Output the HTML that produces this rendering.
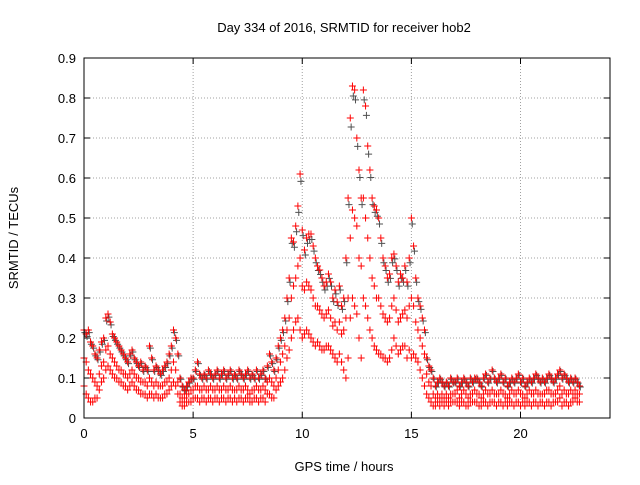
<!DOCTYPE html>
<html><head><meta charset="utf-8"><style>
body{margin:0;background:#fff}
svg{font-family:"Liberation Sans",sans-serif;font-size:13px}
</style></head><body>
<svg id="chart" width="640" height="480">
<text x="344" y="32" text-anchor="middle">Day 334 of 2016, SRMTID for receiver hob2</text>
<text x="344" y="471" text-anchor="middle">GPS time / hours</text>
<text transform="translate(18,238) rotate(-90)" text-anchor="middle">SRMTID / TECUs</text>
<g id="grid"></g>
<g id="axes"></g>
<g id="marks"></g>
<rect x="84" y="58" width="526" height="360" fill="none" stroke="#000"/>
</svg>
<script>
const xTicks=[0,5,10,15,20];
const yTicks=[0,0.1,0.2,0.3,0.4,0.5,0.6,0.7,0.8,0.9];
const yTickLabels=["0","0.1","0.2","0.3","0.4","0.5","0.6","0.7","0.8","0.9"];
const tStart=0, tStep=0.1;
const hi=[.22,.21,.22,.19,.18,.16,.15,.17,.19,.20,.25,.26,.24,.21,.20,.19,.18,.17,.16,.15,.14,.16,.17,.15,.14,.13,.14,.12,.13,.12,.18,.15,.12,.13,.12,.11,.12,.13,.14,.16,.18,.22,.20,.16,.10,.08,.07,.08,.09,.10,.10,.12,.14,.11,.10,.11,.10,.12,.11,.10,.11,.12,.10,.11,.12,.10,.11,.12,.10,.11,.10,.12,.11,.10,.11,.12,.10,.11,.10,.12,.10,.11,.12,.10,.13,.16,.14,.12,.15,.18,.20,.22,.25,.30,.35,.45,.44,.48,.53,.61,.47,.42,.45,.46,.46,.43,.40,.38,.37,.35,.33,.34,.36,.34,.30,.32,.29,.33,.28,.30,.40,.55,.75,.83,.82,.70,.62,.55,.82,.78,.68,.62,.55,.53,.52,.50,.45,.40,.38,.35,.36,.40,.41,.38,.34,.36,.35,.38,.34,.40,.50,.43,.35,.30,.28,.25,.22,.15,.13,.12,.10,.08,.09,.10,.09,.08,.09,.08,.10,.09,.09,.10,.08,.09,.10,.09,.08,.10,.09,.10,.10,.09,.08,.10,.11,.09,.10,.12,.10,.09,.10,.11,.09,.10,.08,.09,.10,.09,.10,.11,.09,.10,.08,.09,.10,.09,.10,.11,.10,.09,.10,.09,.10,.11,.10,.09,.10,.11,.12,.10,.11,.10,.09,.10,.09,.10,.09,.08];
const mid=[.15,.14,.12,.11,.10,.09,.08,.11,.13,.14,.17,.18,.16,.15,.14,.13,.12,.12,.11,.11,.10,.11,.12,.11,.10,.10,.09,.09,.09,.08,.10,.09,.08,.09,.08,.08,.08,.09,.09,.10,.12,.14,.12,.09,.06,.05,.05,.06,.06,.07,.07,.08,.08,.07,.07,.08,.07,.07,.08,.07,.07,.08,.07,.07,.08,.07,.07,.08,.07,.07,.07,.08,.07,.07,.08,.07,.06,.07,.07,.08,.07,.07,.08,.07,.09,.10,.09,.08,.10,.12,.14,.16,.18,.22,.25,.30,.33,.35,.38,.40,.33,.32,.34,.33,.32,.30,.28,.28,.27,.26,.25,.26,.27,.25,.23,.24,.22,.24,.21,.22,.25,.30,.45,.52,.50,.48,.40,.38,.55,.50,.45,.40,.35,.33,.30,.30,.28,.26,.25,.24,.25,.28,.30,.27,.24,.25,.26,.27,.25,.28,.30,.28,.24,.22,.20,.18,.16,.11,.09,.08,.06,.05,.06,.05,.06,.05,.06,.05,.06,.06,.06,.07,.05,.06,.07,.06,.05,.06,.06,.07,.06,.06,.05,.06,.07,.06,.06,.07,.06,.06,.06,.07,.06,.06,.05,.06,.07,.06,.06,.07,.06,.06,.05,.06,.07,.06,.06,.07,.06,.06,.06,.06,.07,.07,.06,.06,.06,.07,.08,.06,.07,.06,.06,.07,.06,.07,.06,.06];
const lo=[.08,.06,.05,.04,.04,.05,.05,.07,.09,.10,.12,.13,.12,.11,.10,.10,.09,.09,.08,.08,.07,.08,.09,.08,.07,.07,.06,.06,.06,.05,.06,.06,.05,.06,.05,.05,.05,.06,.06,.07,.08,.09,.08,.06,.04,.03,.03,.04,.04,.04,.05,.05,.05,.04,.05,.05,.04,.05,.05,.04,.05,.05,.04,.05,.05,.04,.05,.05,.04,.05,.04,.05,.05,.04,.05,.05,.04,.04,.05,.05,.04,.05,.05,.04,.06,.06,.05,.05,.07,.08,.09,.10,.12,.15,.17,.20,.22,.24,.25,.22,.20,.21,.22,.21,.20,.19,.18,.19,.18,.17,.17,.18,.18,.17,.16,.15,.14,.16,.14,.12,.10,.15,.25,.30,.28,.26,.20,.15,.30,.28,.25,.22,.20,.18,.17,.16,.16,.15,.15,.14,.15,.17,.20,.18,.16,.17,.18,.18,.15,.17,.15,.16,.15,.14,.12,.10,.08,.06,.05,.04,.03,.03,.04,.03,.04,.03,.04,.03,.04,.04,.04,.04,.03,.04,.04,.03,.03,.04,.04,.04,.04,.03,.03,.04,.04,.03,.04,.04,.04,.03,.04,.04,.03,.04,.03,.04,.04,.03,.04,.04,.03,.04,.03,.04,.04,.03,.04,.04,.03,.04,.04,.03,.04,.04,.03,.04,.04,.04,.05,.03,.04,.04,.03,.04,.04,.05,.04,.04];
const NS="http://www.w3.org/2000/svg";
const X0=84,X1=610,Y0=418,Y1=58,XMAX=24.1,YMAX=0.9;
function xs(v){return X0+(X1-X0)*v/XMAX;}
function ys(v){return Y0-(Y0-Y1)*v/YMAX;}
function mk(tag,attrs,parent){const e=document.createElementNS(NS,tag);for(const k in attrs)e.setAttribute(k,attrs[k]);parent.appendChild(e);return e;}
const grid=document.getElementById('grid'),axes=document.getElementById('axes'),marks=document.getElementById('marks');
xTicks.forEach(t=>{const x=xs(t);
 if(t>0){const g=mk('line',{x1:x,x2:x,y1:Y0,y2:Y1,stroke:'#a0a0a0','stroke-dasharray':'1,2'},grid);
 
 }
 mk('line',{x1:x,x2:x,y1:Y0,y2:Y0-6,stroke:'#000'},axes);mk('line',{x1:x,x2:x,y1:Y1,y2:Y1+6,stroke:'#000'},axes);
 const tx=mk('text',{x:x,y:Y0+20,'text-anchor':'middle'},axes);tx.textContent=t;
 
 });
yTicks.forEach((t,i)=>{const y=ys(t);
 if(i>0&&i<yTicks.length-1){const g=mk('line',{x1:X0,x2:X1,y1:y,y2:y,stroke:'#a0a0a0','stroke-dasharray':'1,2'},grid);
 
 }
 mk('line',{x1:X0,x2:X0+6,y1:y,y2:y,stroke:'#000'},axes);mk('line',{x1:X1,x2:X1-6,y1:y,y2:y,stroke:'#000'},axes);
 const tx=mk('text',{x:X0-8,y:y+5,'text-anchor':'end'},axes);tx.textContent=yTickLabels[i];
 
 });
function cross(t,v,col){const x=xs(t),y=ys(v);
 const p=mk('path',{d:`M${x-3.5},${y}H${x+3.5}M${x},${y-3.5}V${y+3.5}`,stroke:col,'stroke-width':1,fill:'none'},marks);
 
 }
hi.forEach((v,i)=>cross(tStart+i*tStep+0.04,v*0.97,'#505050'));
[lo,mid,hi].forEach(arr=>arr.forEach((v,i)=>cross(tStart+i*tStep,v,'#ff0000')));
</script>
</body></html>
